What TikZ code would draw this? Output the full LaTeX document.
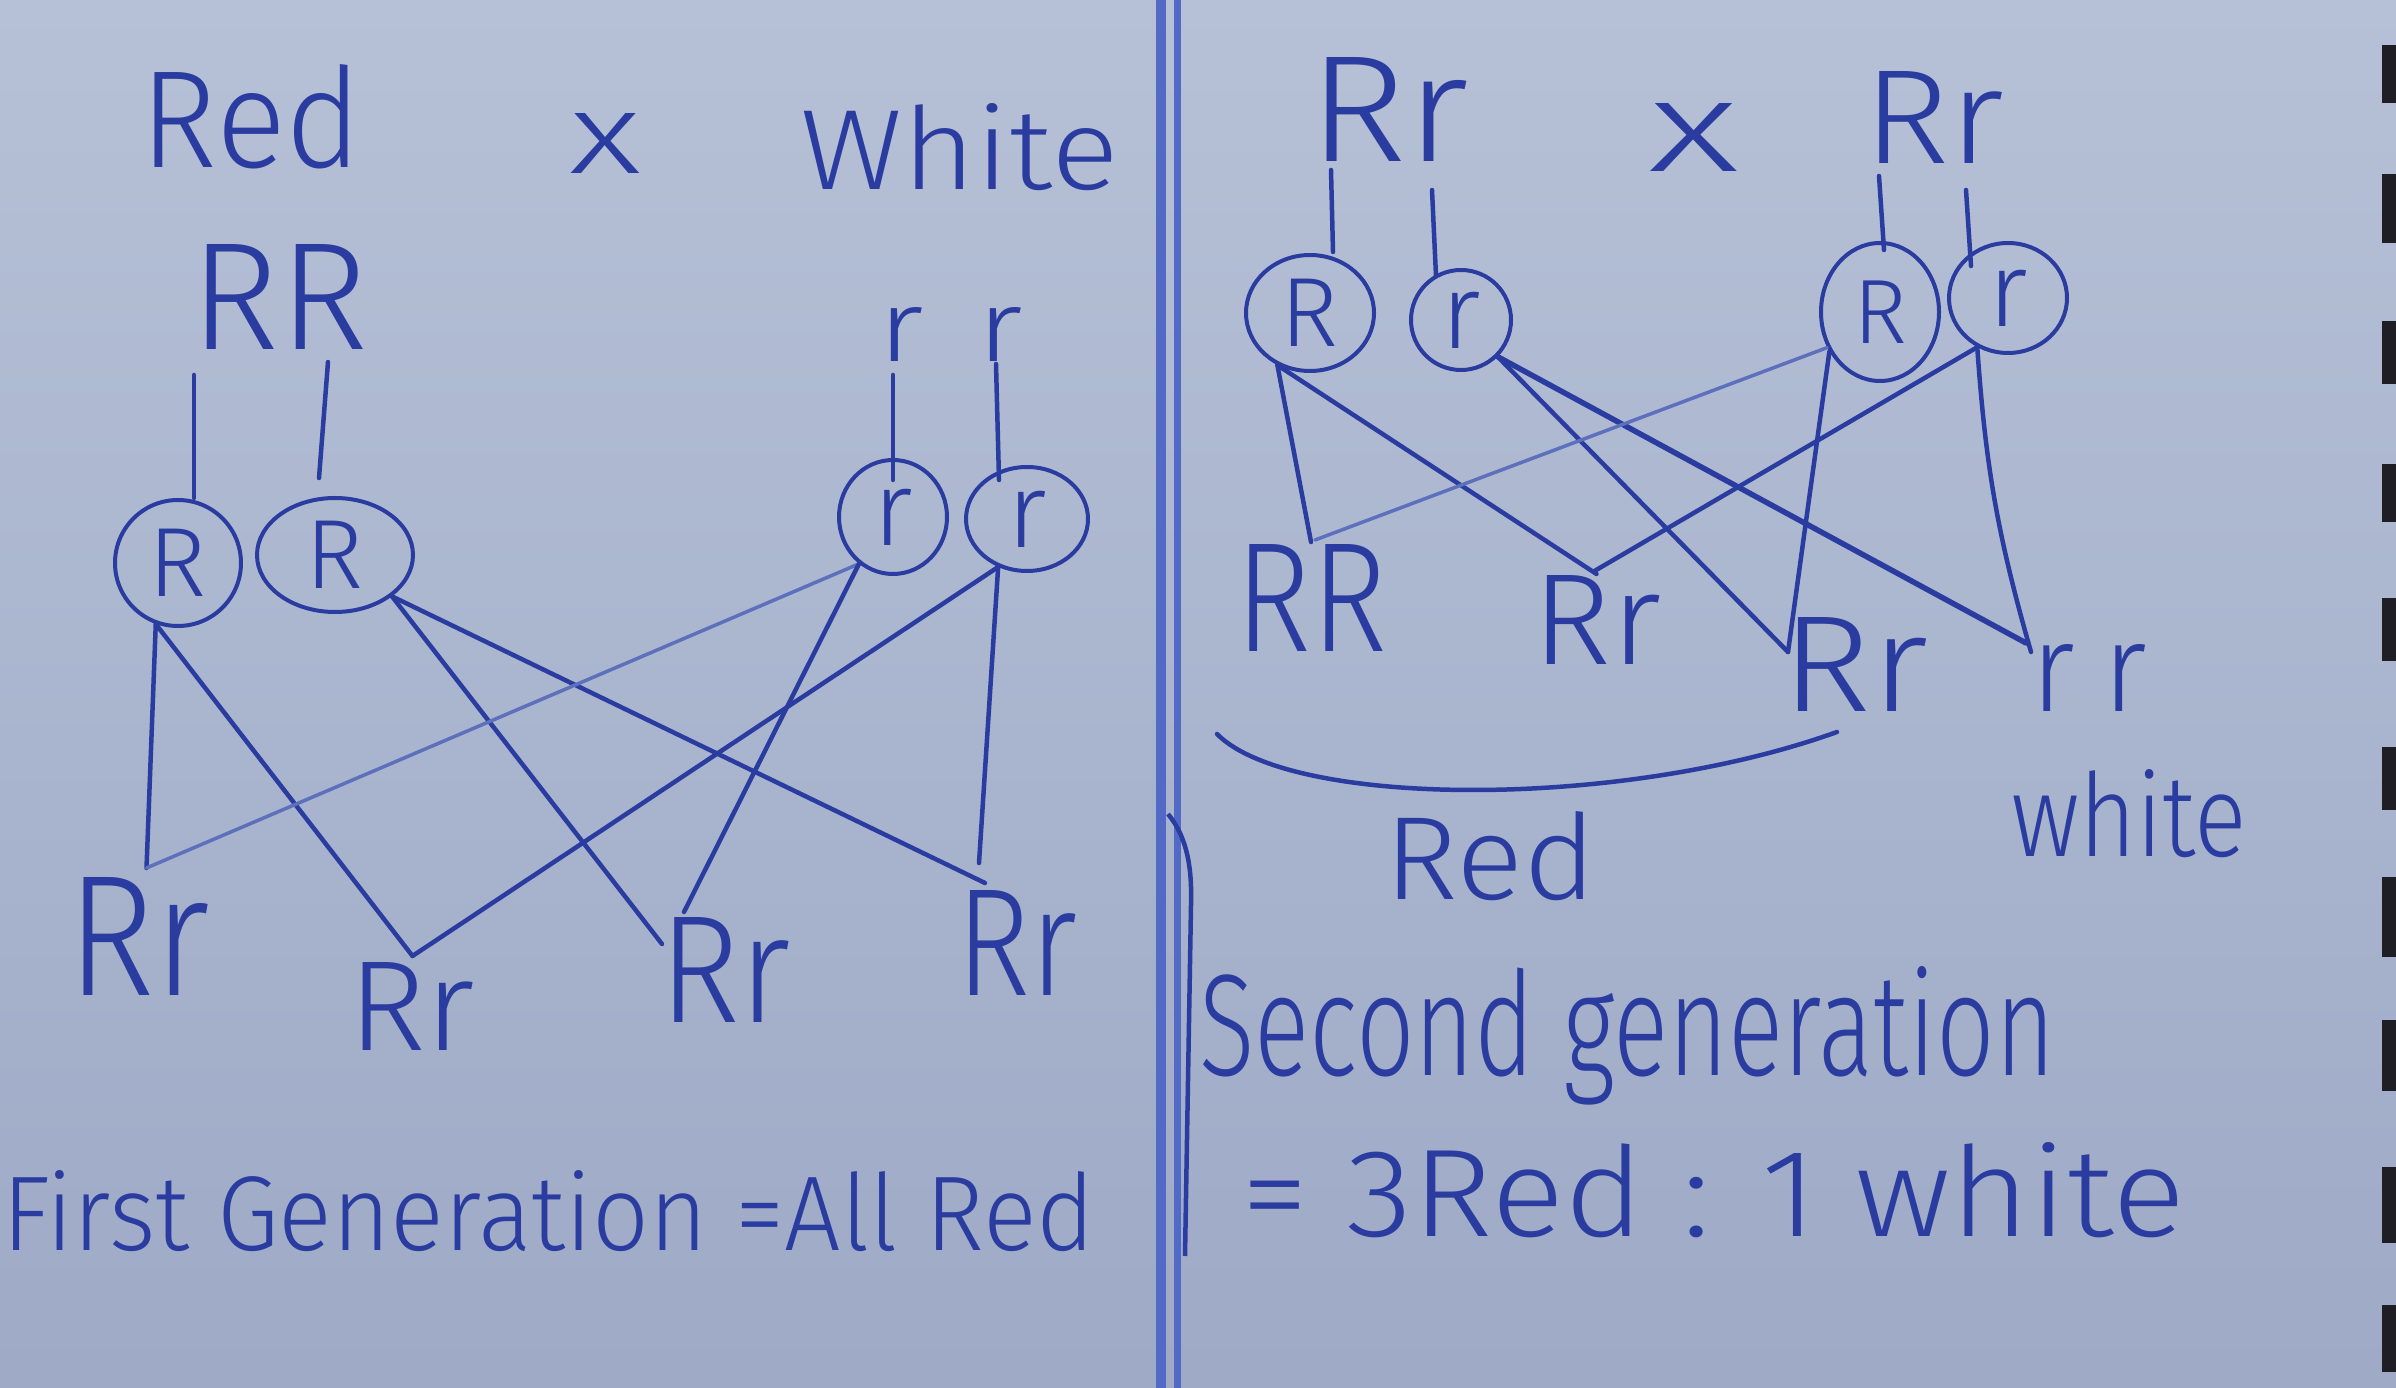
\documentclass[tikz,border=0pt]{standalone}
\usepackage{fontspec}
\IfFontExistsTF{Fira Sans Light}{\setmainfont{Fira Sans Light}}{\setmainfont{Open Sans}}
\usepackage{graphicx}
\usetikzlibrary{shapes.geometric,calc}
\newlength\pxu
\setlength\pxu{0.1mm}
\newcommand{\hw}[3]{\resizebox{#1\pxu}{#2\pxu}{#3}}
\definecolor{paperTop}{RGB}{182,193,215}
\definecolor{paperBot}{RGB}{158,170,198}
\definecolor{ink}{RGB}{42,60,160}
\definecolor{inklight}{RGB}{92,112,188}
\definecolor{margin}{RGB}{82,106,198}
\definecolor{holecol}{RGB}{30,30,36}
\tikzset{
  txt/.style={anchor=base west, inner sep=0pt, outer sep=0pt, text=ink},
  gam/.style={draw=ink, line width=0.4mm, shape=ellipse, inner sep=0pt, text=ink,
    font=\fontsize{28}{28}\selectfont},
  link/.style={draw=ink, line width=0.45mm, line cap=round},
  linklight/.style={draw=inklight, line width=0.35mm, line cap=round},
  tickline/.style={draw=ink, line width=0.45mm, line cap=round},
  hole/.style={fill=holecol},
}
\begin{document}
\begin{tikzpicture}[x=0.1mm, y=-0.1mm]
\useasboundingbox (0,0) rectangle (2396,1388);
\shade[top color=paperTop, bottom color=paperBot] (0,0) rectangle (2396,1388);

% binding holes at right edge
\foreach \a/\b in {45/103,174/243,321/384,464/522,598/661,747/810,877/957,1020/1091,1167/1243,1305/1372}
  \fill[hole] (2382,\a) rectangle (2396,\b);

% margin / divider lines
\coordinate (mA1) at (1161,0); \coordinate (mA2) at (1161,1388);
\coordinate (mB1) at (1177,0); \coordinate (mB2) at (1177,1388);
\draw[margin, line width=1.0mm] (mA1) -- (mA2);
\draw[margin, line width=0.7mm] (mB1) -- (mB2);
\coordinate (br1) at (1168,814); \coordinate (br2) at (1191,905); \coordinate (br3) at (1185,1256);
\draw[ink, line width=0.45mm] (br1) .. controls (1188,838) and (1192,870) .. (br2) -- (br3);

% ---------------- LEFT PANEL ----------------
\node[txt] (red) at (141,168) {\hw{221}{103}{Red}};
\node[txt] (x1) at (569,174) {\hw{72}{60}{x}};
\node[txt] (white) at (800,190) {\hw{319}{86}{White}};
\node[txt] (RRp) at (190,350) {\hw{178}{105}{RR}};
\node[txt] (rrp) at (878,362) {\hw{145}{54}{r\hspace{0.45em}r}};

\node[gam, minimum width=12.6mm, minimum height=12.6mm] (cR1) at (178,563) {R};
\node[gam, minimum width=15.6mm, minimum height=11.4mm] (cR2) at (335,555) {R};
\node[gam, minimum width=10.8mm, minimum height=11.4mm, font=\fontsize{30}{30}\selectfont] (cr1) at (893,517) {r};
\node[gam, minimum width=12.2mm, minimum height=10.4mm, font=\fontsize{30}{30}\selectfont] (cr2) at (1027,519) {r};

\coordinate (tk1) at (194,375);
\coordinate (tk2a) at (328,362); \coordinate (tk2b) at (319,478);
\coordinate (tk3a) at (893,375); \coordinate (tk3b) at (893,480);
\coordinate (tk4a) at (996,364); \coordinate (tk4b) at (999,480);
\draw[tickline] (tk1) -- (tk1 |- cR1.north);
\draw[tickline] (tk2a) -- (tk2b);
\draw[tickline] (tk3a) -- (tk3b);
\draw[tickline] (tk4a) -- (tk4b);

\node[txt] (o1) at (67,995) {\hw{143}{118}{Rr}};
\node[txt] (o2) at (348,1050) {\hw{127}{88}{Rr}};
\node[txt] (o3) at (659,1022) {\hw{132}{105}{Rr}};
\node[txt] (o4) at (956,995) {\hw{121}{105}{Rr}};

\draw[link] (cR1.-110) -- ($(o1.north)+(8,-9)$);
\draw[link] (cR1.-110) -- ($(o2.north)+(1,-6)$);
\draw[link] (cR2.-36) -- ($(o3.north west)+(3,27)$);
\draw[link] (cR2.-36) -- ($(o4.north west)+(29,-7)$);
\draw[linklight] (cr1.-126) -- ($(o1.north)+(8,-9)$);
\draw[link] (cr1.-126) -- ($(o3.north west)+(25,-5)$);
\draw[link] (cr2.-121) -- ($(o2.north)+(1,-6)$);
\draw[link] (cr2.-121) -- ($(o4.north west)+(23,-27)$);

\node[txt] (first) at (2,1250) {\hw{1093}{80}{First Generation =All Red}};

% ---------------- RIGHT PANEL ----------------
\node[txt] (p1) at (1308,162) {\hw{161}{104}{Rr}};
\node[txt] (x2) at (1648,172) {\hw{91}{68}{x}};
\node[txt] (p2) at (1863,164) {\hw{141}{92}{Rr}};

\node[gam, minimum width=12.8mm, minimum height=11.6mm] (cR3) at (1310,313) {R};
\node[gam, minimum width=10mm, minimum height=10mm, font=\fontsize{30}{30}\selectfont] (cr3) at (1461,320) {r};
\node[gam, minimum width=11.8mm, minimum height=13.8mm, font=\fontsize{26}{26}\selectfont] (cR4) at (1880,312) {R};
\node[gam, minimum width=11.8mm, minimum height=11mm, font=\fontsize{30}{30}\selectfont] (cr4) at (2008,298) {r};

\coordinate (tk5a) at (1331,170); \coordinate (tk5b) at (1333,252);
\coordinate (tk6a) at (1432,190); \coordinate (tk6b) at (1436,276);
\coordinate (tk7a) at (1879,176); \coordinate (tk7b) at (1884,250);
\coordinate (tk8a) at (1966,190); \coordinate (tk8b) at (1971,266);
\draw[tickline] (tk5a) -- (tk5b);
\draw[tickline] (tk6a) -- (tk6b);
\draw[tickline] (tk7a) -- (tk7b);
\draw[tickline] (tk8a) -- (tk8b);

\node[txt] (q1) at (1235,652) {\hw{152}{107}{RR}};
\node[txt] (q2) at (1532,665) {\hw{129}{89}{Rr}};
\node[txt] (q3) at (1781,712) {\hw{147}{94}{Rr}};
\node[txt] (q4) at (2031,712) {\hw{116}{67}{r\hspace{0.25em}r}};

\draw[link] (cR3.-122) -- ($(q1.north)+(0,-3)$);
\draw[link] (cR3.-122) -- ($(q2.north)+(0,-2)$);
\draw[link] (cr3.-45) -- ($(q3.north west)+(7,34)$);
\draw[link, line width=0.55mm] (cr3.-45) -- ($(q4.north west)+(-5,-2)$);
\draw[linklight] (cR4.-146) -- ($(q1.north)+(4,-5)$);
\draw[link] (cR4.-142) -- ($(q3.north west)+(7,34)$);
\draw[link] (cr4.-122) -- ($(q2.north)+(-2,-5)$);
\draw[link] (cr4.-122) to[bend right=6] ($(q4.north west)+(0,7)$);

\coordinate (arcL) at (1217,734); \coordinate (arcR) at (1837,732);
\draw[link] (arcL) .. controls (1290,808) and (1620,810) .. (arcR);

\node[txt] (redR) at (1384,900) {\hw{212}{88}{Red}};
\node[txt] (whiteR) at (2011,857) {\hw{236}{87}{white}};
\node[txt] (second) at (1199,1075) {\hw{856}{109}{Second generation}};
\node[txt] (ratio) at (1241,1236) {\hw{944}{94}{= 3Red : 1 white}};
\end{tikzpicture}
\end{document}
